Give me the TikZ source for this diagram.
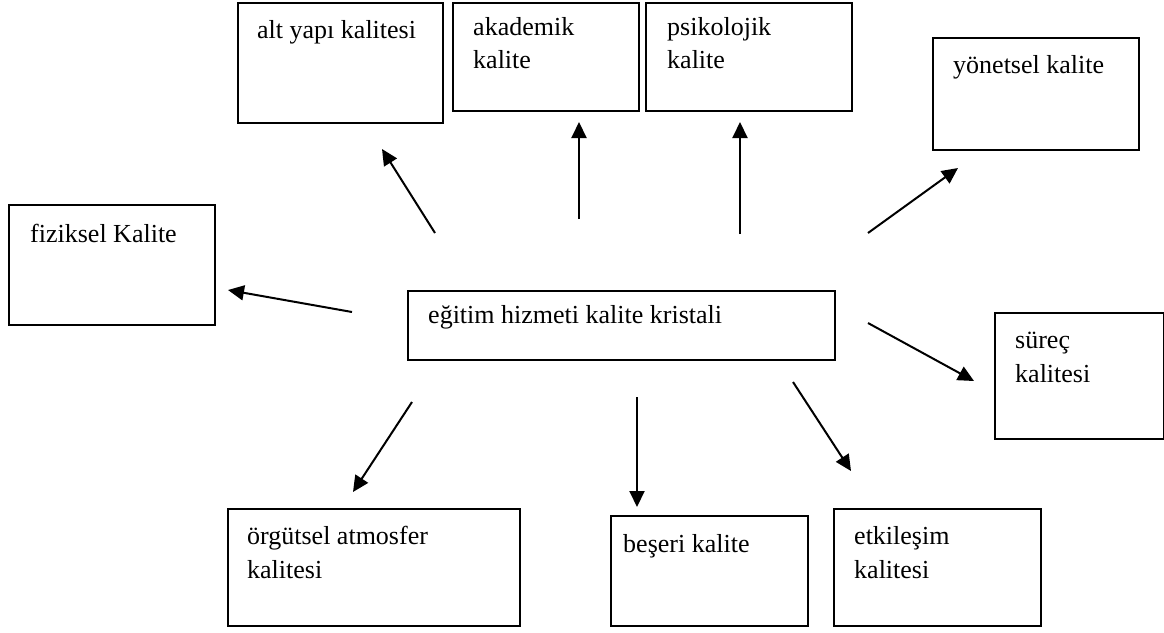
\documentclass[tikz,border=0pt]{standalone}
\usepackage{fontspec}
\setmainfont{Liberation Serif}
\usetikzlibrary{arrows.meta}
\tikzset{
  box/.style={draw=black, line width=1.6pt, fill=none, inner sep=0pt, anchor=north west},
  txt/.style={anchor=base west, inner sep=0pt, font=\fontsize{26}{33}\selectfont},
  arr/.style={line width=2pt, -{Triangle[length=16pt,width=15pt]}},
}
\begin{document}
\begin{tikzpicture}[x=1pt,y=-1pt]
\useasboundingbox[fill=white] (0,0) rectangle (1164,632);
% boxes
\node[box, minimum width=205pt, minimum height=120pt] (alt) at (237,2) {};
\node[box, minimum width=186pt, minimum height=108pt] (aka) at (452,2) {};
\node[box, minimum width=206pt, minimum height=108pt] (psi) at (645,2) {};
\node[box, minimum width=206pt, minimum height=112pt] (yon) at (932,37) {};
\node[box, minimum width=206pt, minimum height=120pt] (fiz) at (8,204) {};
\node[box, minimum width=427pt, minimum height=69pt] (egt) at (407,290) {};
\node[box, minimum width=169pt, minimum height=126pt] (sur) at (994,312) {};
\node[box, minimum width=292pt, minimum height=117pt] (org) at (227,508) {};
\node[box, minimum width=197pt, minimum height=110pt] (bes) at (610,515) {};
\node[box, minimum width=207pt, minimum height=117pt] (etk) at (833,508) {};
% texts
\node[txt] (altA) at (257,38) {alt yapı kalitesi};
\node[txt] (akaA) at (473,35) {akademik};
\node[txt] (akaB) at (473,68) {kalite};
\node[txt] (psiA) at (667,35) {psikolojik};
\node[txt] (psiB) at (667,68) {kalite};
\node[txt] (yonA) at (953,73) {yönetsel kalite};
\node[txt] (fizA) at (30,242) {fiziksel Kalite};
\node[txt] (egtA) at (428,323) {eğitim hizmeti kalite kristali};
\node[txt] (surA) at (1015,348) {süreç};
\node[txt] (surB) at (1015,382) {kalitesi};
\node[txt] (orgA) at (247,544) {örgütsel atmosfer};
\node[txt] (orgB) at (247,578) {kalitesi};
\node[txt] (besA) at (623,552) {beşeri kalite};
\node[txt] (etkA) at (854,544) {etkileşim};
\node[txt] (etkB) at (854,578) {kalitesi};
% arrow ends
\coordinate (a1s) at (435,233); \coordinate (a1e) at (382,149);
\coordinate (a2s) at (579,219); \coordinate (a2e) at (579,122);
\coordinate (a3s) at (740,234); \coordinate (a3e) at (740,122);
\coordinate (a4s) at (868,233); \coordinate (a4e) at (958,168);
\coordinate (a5s) at (352,312); \coordinate (a5e) at (228,290);
\coordinate (a6s) at (868,323); \coordinate (a6e) at (974,381);
\coordinate (a7s) at (412,402); \coordinate (a7e) at (353,492);
\coordinate (a8s) at (637,397); \coordinate (a8e) at (637,507);
\coordinate (a9s) at (793,382); \coordinate (a9e) at (851,471);
\draw[arr] (a1s) -- (a1e);
\draw[arr] (a2s) -- (a2e);
\draw[arr] (a3s) -- (a3e);
\draw[arr] (a4s) -- (a4e);
\draw[arr] (a5s) -- (a5e);
\draw[arr] (a6s) -- (a6e);
\draw[arr] (a7s) -- (a7e);
\draw[arr] (a8s) -- (a8e);
\draw[arr] (a9s) -- (a9e);
\end{tikzpicture}
\end{document}
